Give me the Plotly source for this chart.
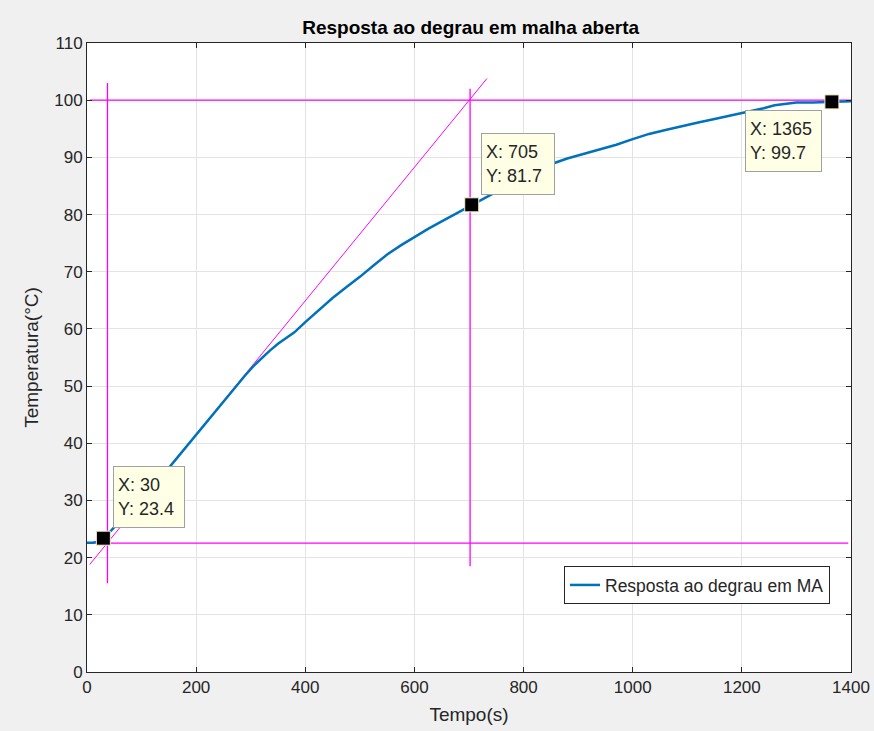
import plotly.graph_objects as go

# Step response data (time in s, temperature in °C)
tempo = [0, 10, 20, 30, 45, 60, 75, 90, 105, 120, 135, 150, 170, 190, 210, 230, 250,
         270, 290, 305, 320, 335, 350, 365, 380, 400, 425, 450, 475, 500, 525, 550, 575, 600,
         625, 650, 675, 705, 730, 760, 790, 820, 850, 880, 910, 940, 970, 1000, 1030,
         1060, 1090, 1120, 1150, 1180, 1210, 1240, 1260, 1280, 1300, 1330, 1365, 1400]
temperatura = [22.6, 22.6, 22.8, 23.4, 24.8, 26.3, 27.9, 29.5, 31.0, 32.6, 34.1, 35.7,
               38.0, 40.4, 42.7, 45.0, 47.3, 49.7, 51.9, 53.5, 54.9, 56.2, 57.4, 58.4,
               59.4, 61.2, 63.3, 65.4, 67.3, 69.1, 71.1, 73.0, 74.6, 76.1, 77.5, 78.8, 80.1,
               81.7, 83.0, 84.5, 85.9, 87.4, 88.8, 89.8, 90.6, 91.4, 92.2, 93.2, 94.1,
               94.8, 95.5, 96.1, 96.7, 97.3, 97.9, 98.6, 99.1, 99.4, 99.6, 99.6, 99.7, 99.8]

# Construction lines (magenta)
tangente_x = [5, 733]
tangente_y = [18.8, 103.8]
hor_sup_x = [5, 1400]
hor_sup_y = [100, 100]
hor_inf_x = [10, 1395]
hor_inf_y = [22.55, 22.55]
vert_esq_x = [37.5, 37.5]
vert_esq_y = [15.5, 103]
vert_dir_x = [702, 702]
vert_dir_y = [18.5, 102]

# Data tips
tip_x = [30, 705, 1365]
tip_y = [23.4, 81.7, 99.7]
tip_offsets = [(46, -41), (46, -41), (-48, 39)]
tip_widths = [62, 64, 67]

x_ticks = [0, 200, 400, 600, 800, 1000, 1200, 1400]
y_ticks = list(range(0, 111, 10))

FONT = "Liberation Sans, Arial, sans-serif"
MAG = "#ff00ff"
TXT = "#262626"

fig = go.Figure()

for xs, ys, w in [(hor_sup_x, hor_sup_y, 1.3), (hor_inf_x, hor_inf_y, 1.3),
                  (vert_esq_x, vert_esq_y, 1.3), (vert_dir_x, vert_dir_y, 1.3),
                  (tangente_x, tangente_y, 1.0)]:
    fig.add_trace(go.Scatter(x=xs, y=ys, mode="lines", line=dict(color=MAG, width=w),
                             showlegend=False, hoverinfo="skip"))

fig.add_trace(go.Scatter(x=tempo, y=temperatura, mode="lines",
                         line=dict(color="#0072BD", width=2.5),
                         name="Resposta ao degrau em MA"))

fig.add_trace(go.Scatter(x=tip_x, y=tip_y, mode="markers",
                         marker=dict(symbol="square", size=14, color="black",
                                     line=dict(color="#f5f0c8", width=1)),
                         showlegend=False, hoverinfo="skip"))

for xv, yv, (ox, oy), wd in zip(tip_x, tip_y, tip_offsets, tip_widths):
    fig.add_annotation(x=xv, y=yv, xref="x", yref="y",
                       text=f"X: {xv}<br>Y: {yv}", showarrow=True,
                       arrowcolor="rgba(0,0,0,0)", arrowwidth=0.1, ax=ox, ay=oy,
                       align="left", font=dict(family=FONT, size=18, color=TXT),
                       bgcolor="#ffffe6", bordercolor="#a0a0a0", borderwidth=1,
                       borderpad=4, width=wd, height=52)

axis_common = dict(showline=True, linecolor=TXT, linewidth=1, mirror="ticks",
                   ticks="inside", ticklen=5, tickcolor=TXT, automargin=False,
                   showgrid=True, gridcolor="#e3e3e3", gridwidth=1, zeroline=False,
                   tickfont=dict(family=FONT, size=17, color=TXT))

fig.update_xaxes(range=[0, 1400], tickvals=x_ticks, ticktext=[str(v) for v in x_ticks],
                 title=dict(text="Tempo(s)", font=dict(family=FONT, size=19, color=TXT),
                            standoff=11),
                 **axis_common)
fig.update_yaxes(range=[0, 110], tickvals=y_ticks, ticktext=[str(v) for v in y_ticks],
                 title=dict(text="Temperatura(°C)", font=dict(family=FONT, size=19, color=TXT),
                            standoff=10),
                 **axis_common)

fig.update_layout(
    width=874, height=731,
    margin=dict(l=87, r=23, t=43, b=59),
    paper_bgcolor="#f0f0f0", plot_bgcolor="white",
    title=dict(text="<b>Resposta ao degrau em malha aberta</b>", x=0.5385, xanchor="center",
               y=0.962, yanchor="middle",
               font=dict(family=FONT, size=19, color="black")),
    legend=dict(x=0.9725, y=0.108, xanchor="right", yanchor="bottom",
                bgcolor="white", bordercolor=TXT, borderwidth=1,
                font=dict(family=FONT, size=17.5, color=TXT)),
    showlegend=True,
)

fig.write_html("out.html")
